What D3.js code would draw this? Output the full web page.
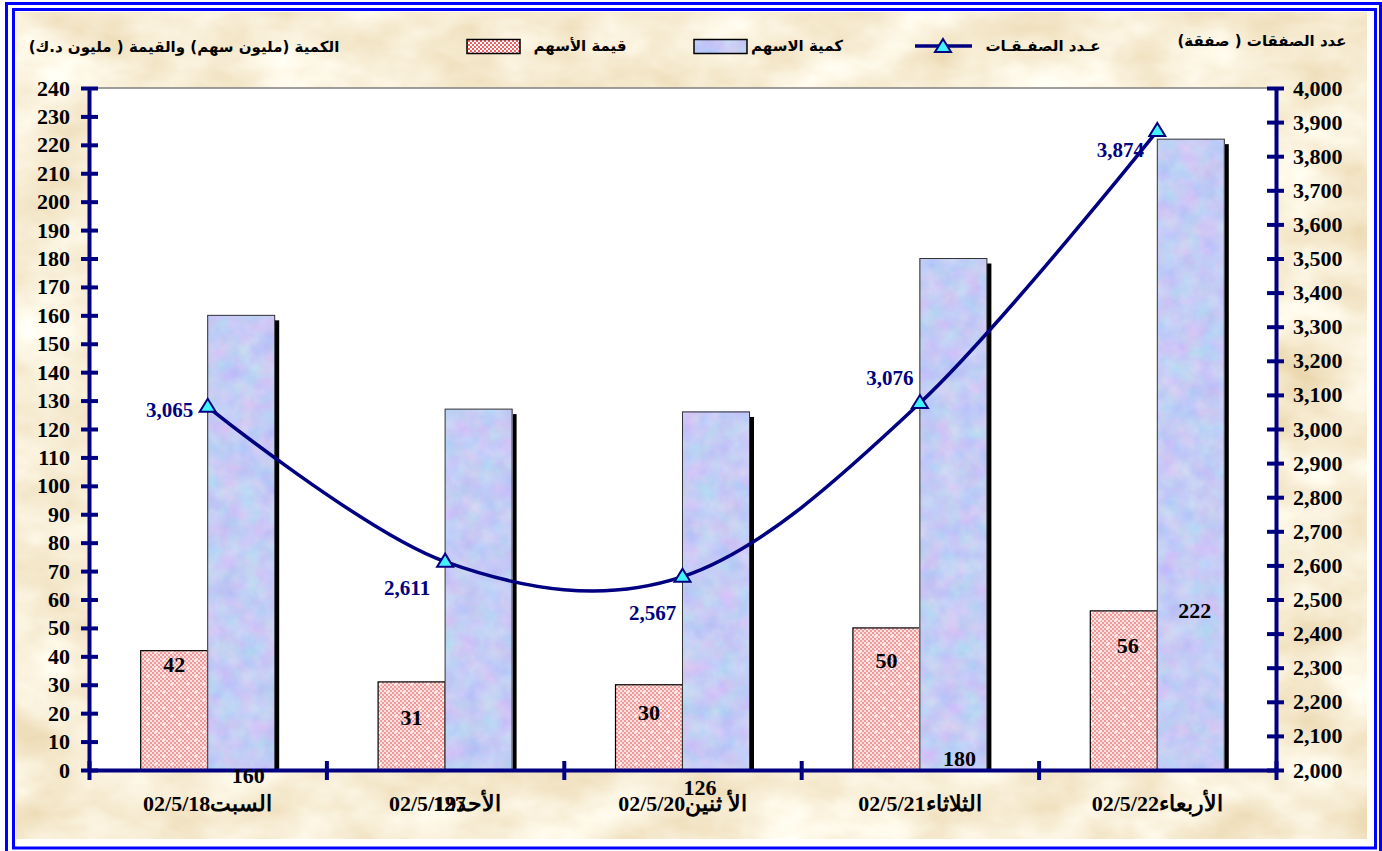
<!DOCTYPE html>
<html>
<head>
<meta charset="utf-8">
<script src="https://cdn.jsdelivr.net/npm/d3@7/dist/d3.min.js"></script>
<style>
  body { margin: 0; background: #fff; }
  svg { display: block; }
  .num { font-family: "Liberation Serif", "Times New Roman", serif; font-weight: bold; }
  .ar { font-family: "DejaVu Sans", Arial, sans-serif; font-weight: bold; }
</style>
</head>
<body>
<svg id="chart" width="1382" height="851"></svg>
<script>
// ---- data ----
var days       = ["السبت", "الأحد", "الأ ثنين", "الثلاثاء", "الأربعاء"];
var dates      = ["02/5/18", "02/5/19", "02/5/20", "02/5/21", "02/5/22"];
var shareValue = [42, 31, 30, 50, 56];           // قيمة الأسهم (مليون د.ك)
var shareQty   = [160, 127, 126, 180, 222];      // كمية الاسهم (مليون سهم)
var deals      = [3065, 2611, 2567, 3076, 3874]; // عدد الصفقات
var leftTicks  = [0,10,20,30,40,50,60,70,80,90,100,110,120,130,140,150,160,170,180,190,200,210,220,230,240];
var rightTicks = [2000,2100,2200,2300,2400,2500,2600,2700,2800,2900,3000,3100,3200,3300,3400,3500,3600,3700,3800,3900,4000];

// hand placed labels in the original (pixel offsets)
var valueLabelOff = [[0,14],[0,35],[0,28],[0,32],[4,34]];
var qtyLabelOff   = [[7,5],[-29,33],[-16,17],[6,-12],[4,-160]];
var dealLabelOff  = [[-38,3],[-38,26],[-30,36],[-30,-25],[-37,19]];

var svg = d3.select("#chart");
var pLeft = 89, pRight = 1276, pTop = 88, pBottom = 770;
var barW = 67;

var x  = d3.scaleBand().domain(d3.range(days.length)).range([pLeft, pRight]);
var yL = d3.scaleLinear().domain([0, 240]).range([pBottom, pTop]);
var yR = d3.scaleLinear().domain([2000, 4000]).range([pBottom, pTop]);
var navy = "#000080";

// ---- defs: textures ----
var defs = svg.append("defs");

var fp = defs.append("filter").attr("id", "parch").attr("x", 0).attr("y", 0).attr("width", 1).attr("height", 1)
  .attr("color-interpolation-filters", "sRGB");
fp.append("feTurbulence").attr("type", "fractalNoise").attr("baseFrequency", "0.012 0.02")
  .attr("numOctaves", 4).attr("seed", 3).attr("result", "n");
fp.append("feColorMatrix").attr("in", "n").attr("type", "matrix")
  .attr("values", "0.12 0 0 0 0.91  0.2 0 0 0 0.83  0.35 0 0 0 0.66  0 0 0 0 1");

var fm = defs.append("filter").attr("id", "marble").attr("x", 0).attr("y", 0).attr("width", 1).attr("height", 1)
  .attr("color-interpolation-filters", "sRGB");
fm.append("feTurbulence").attr("type", "fractalNoise").attr("baseFrequency", 0.05)
  .attr("numOctaves", 3).attr("seed", 7).attr("result", "n");
fm.append("feColorMatrix").attr("in", "n").attr("type", "matrix")
  .attr("values", "0.22 0 0 0 0.66  0 0.16 -0.04 0 0.74  0 0 0.06 0 0.93  0 0 0 0 1");

var chk = defs.append("pattern").attr("id", "chk").attr("width", 4).attr("height", 4)
  .attr("patternUnits", "userSpaceOnUse");
chk.append("rect").attr("width", 4).attr("height", 4).attr("fill", "#fde2e2");
chk.append("rect").attr("width", 2).attr("height", 2).attr("fill", "#f29a9a");
chk.append("rect").attr("x", 2).attr("y", 2).attr("width", 2).attr("height", 2).attr("fill", "#f29a9a");

var pk = defs.append("pattern").attr("id", "pinkfill").attr("width", 16).attr("height", 16)
  .attr("patternUnits", "userSpaceOnUse");
pk.append("rect").attr("width", 16).attr("height", 16).attr("fill", "url(#chk)");
[[4, 4], [12, 12]].forEach(function(p) {
  pk.append("rect").attr("x", p[0] - 1.5).attr("y", p[1] - 0.5).attr("width", 3).attr("height", 1).attr("fill", "#fff");
  pk.append("rect").attr("x", p[0] - 0.5).attr("y", p[1] - 1.5).attr("width", 1).attr("height", 3).attr("fill", "#fff");
});

var chkL = defs.append("pattern").attr("id", "chkL").attr("width", 4).attr("height", 4)
  .attr("patternUnits", "userSpaceOnUse");
chkL.append("rect").attr("width", 4).attr("height", 4).attr("fill", "#fff");
chkL.append("rect").attr("width", 2).attr("height", 2).attr("fill", "#f06060");
chkL.append("rect").attr("x", 2).attr("y", 2).attr("width", 2).attr("height", 2).attr("fill", "#f06060");

// ---- frame ----
svg.append("rect").attr("x", 16).attr("y", 12).attr("width", 1351).attr("height", 827)
  .attr("filter", "url(#parch)");
svg.append("rect").attr("x", 6.5).attr("y", 3.5).attr("width", 1374).attr("height", 860)
  .attr("fill", "none").attr("stroke", "#0000ff").attr("stroke-width", 3);
svg.append("rect").attr("x", 13.5).attr("y", 9.5).attr("width", 1362).attr("height", 838.5)
  .attr("fill", "none").attr("stroke", "#0000ff").attr("stroke-width", 3);

// plot area
svg.append("rect").attr("x", pLeft).attr("y", pTop).attr("width", pRight - pLeft).attr("height", pBottom - pTop)
  .attr("fill", "#fff").attr("stroke", "#808080").attr("stroke-width", 1.5);

// ---- bars ----
var half = x.bandwidth() / 2;

svg.selectAll(".shadow").data(shareQty).enter().append("rect")
  .attr("class", "shadow")
  .attr("x", function(d, i) { return x(i) + half + 4.5; })
  .attr("y", function(d) { return yL(d) + 5; })
  .attr("width", barW)
  .attr("height", function(d) { return pBottom - yL(d) - 5; })
  .attr("fill", "#000");

svg.selectAll(".vbar").data(shareValue).enter().append("rect")
  .attr("class", "vbar")
  .attr("x", function(d, i) { return x(i) + half - barW; })
  .attr("y", function(d) { return yL(d); })
  .attr("width", barW)
  .attr("height", function(d) { return pBottom - yL(d); })
  .attr("fill", "url(#pinkfill)")
  .attr("stroke", "#000").attr("stroke-width", 1.2);

svg.selectAll(".qbar").data(shareQty).enter().append("rect")
  .attr("class", "qbar")
  .attr("x", function(d, i) { return x(i) + half; })
  .attr("y", function(d) { return yL(d); })
  .attr("width", barW)
  .attr("height", function(d) { return pBottom - yL(d); })
  .attr("filter", "url(#marble)");

svg.selectAll(".qedge").data(shareQty).enter().append("rect")
  .attr("class", "qedge")
  .attr("x", function(d, i) { return x(i) + half; })
  .attr("y", function(d) { return yL(d); })
  .attr("width", barW)
  .attr("height", function(d) { return pBottom - yL(d); })
  .attr("fill", "none").attr("stroke", "#333").attr("stroke-width", 1);

// ---- line ----
var pts = deals.map(function(d, i) { return [x(i) + half, yR(d)]; });
svg.append("path").datum(pts)
  .attr("d", d3.line().curve(d3.curveCatmullRom.alpha(0)))
  .attr("fill", "none").attr("stroke", navy).attr("stroke-width", 3.5);

var tri = "M0,-8L8,5L-8,5Z";
svg.selectAll(".mk").data(pts).enter().append("path")
  .attr("class", "mk")
  .attr("transform", function(p) { return "translate(" + p[0] + "," + p[1] + ")"; })
  .attr("d", tri)
  .attr("fill", "#44f2ff").attr("stroke", navy).attr("stroke-width", 2);

// ---- axes ----
function styleAxis(g, x1, x2) {
  g.select(".domain").attr("stroke", navy).attr("stroke-width", 4);
  g.selectAll(".tick line").attr("stroke", navy).attr("stroke-width", 4).attr("x1", x1).attr("x2", x2);
  g.selectAll(".tick text").attr("class", "num").attr("font-size", 22).attr("fill", "#000");
}

var gl = svg.append("g").attr("transform", "translate(" + pLeft + ",0)")
  .call(d3.axisLeft(yL).tickValues(leftTicks).tickSize(8).tickPadding(11).tickSizeOuter(0));
styleAxis(gl, -8, 9);

var gr = svg.append("g").attr("transform", "translate(" + pRight + ",0)")
  .call(d3.axisRight(yR).tickValues(rightTicks).tickSize(8).tickPadding(9)
    .tickFormat(d3.format(",")).tickSizeOuter(0));
styleAxis(gr, -9, 8);

// x axis: ticks on category boundaries
var bounds = d3.range(days.length + 1);
var xb = d3.scaleLinear().domain([0, days.length]).range([pLeft, pRight]);
var gx = svg.append("g").attr("transform", "translate(0," + pBottom + ")")
  .call(d3.axisBottom(xb).tickValues(bounds).tickSize(9).tickFormat("").tickSizeOuter(0));
gx.select(".domain").attr("stroke", navy).attr("stroke-width", 4);
gx.selectAll(".tick line").attr("stroke", navy).attr("stroke-width", 4).attr("y1", -9).attr("y2", 10);

svg.selectAll(".xl").data(days).enter().append("text")
  .attr("class", "num")
  .attr("x", function(d, i) { return x(i) + half; })
  .attr("y", 811)
  .attr("text-anchor", "middle")
  .attr("font-size", 22)
  .text(function(d, i) { return d + dates[i]; });

// ---- data labels ----
svg.selectAll(".vl").data(shareValue).enter().append("text")
  .attr("class", "num")
  .attr("x", function(d, i) { return x(i) + half - barW / 2 + valueLabelOff[i][0]; })
  .attr("y", function(d, i) { return yL(d) + valueLabelOff[i][1]; })
  .attr("dy", "0.35em")
  .attr("text-anchor", "middle").attr("font-size", 22).attr("fill", "#000")
  .text(function(d) { return d; });

svg.selectAll(".ql").data(shareQty).enter().append("text")
  .attr("class", "num")
  .attr("x", function(d, i) { return x(i) + half + barW / 2 + qtyLabelOff[i][0]; })
  .attr("y", function(d, i) { return pBottom + qtyLabelOff[i][1]; })
  .attr("dy", "0.35em")
  .attr("text-anchor", "middle").attr("font-size", 22).attr("fill", "#000")
  .text(function(d) { return d; });

svg.selectAll(".dl").data(deals).enter().append("text")
  .attr("class", "num")
  .attr("x", function(d, i) { return pts[i][0] + dealLabelOff[i][0]; })
  .attr("y", function(d, i) { return pts[i][1] + dealLabelOff[i][1]; })
  .attr("dy", "0.35em")
  .attr("text-anchor", "middle").attr("font-size", 21).attr("fill", navy)
  .text(function(d) { return d3.format(",")(d); });

// ---- titles and legend ----
function arText(cx, cy, s, size) {
  return svg.append("text").attr("class", "ar")
    .attr("x", cx).attr("y", cy).attr("dy", "0.35em")
    .attr("text-anchor", "middle").attr("direction", "rtl")
    .attr("font-size", size).attr("fill", "#000").text(s);
}

arText(184, 47, "الكمية (مليون سهم) والقيمة ( مليون د.ك)", 15);
arText(1262, 41, "عدد الصفقات ( صفقة)", 15);

svg.append("rect").attr("x", 467).attr("y", 39.5).attr("width", 53).attr("height", 14)
  .attr("fill", "url(#chkL)").attr("stroke", "#000").attr("stroke-width", 1.5);
arText(580, 46, "قيمة الأسهم", 15);

svg.append("rect").attr("x", 694).attr("y", 39.5).attr("width", 53).attr("height", 14)
  .attr("filter", "url(#marble)");
svg.append("rect").attr("x", 694).attr("y", 39.5).attr("width", 53).attr("height", 14)
  .attr("fill", "none").attr("stroke", "#000").attr("stroke-width", 1.5);
arText(797, 46, "كمية الاسهم", 15);

svg.append("line").attr("x1", 915).attr("x2", 972).attr("y1", 46).attr("y2", 46)
  .attr("stroke", navy).attr("stroke-width", 3.5);
svg.append("path").attr("transform", "translate(943,47)").attr("d", tri)
  .attr("fill", "#44f2ff").attr("stroke", navy).attr("stroke-width", 2);
arText(1043, 46, "عـدد الصفـقـات", 15);
</script>
</body>
</html>
